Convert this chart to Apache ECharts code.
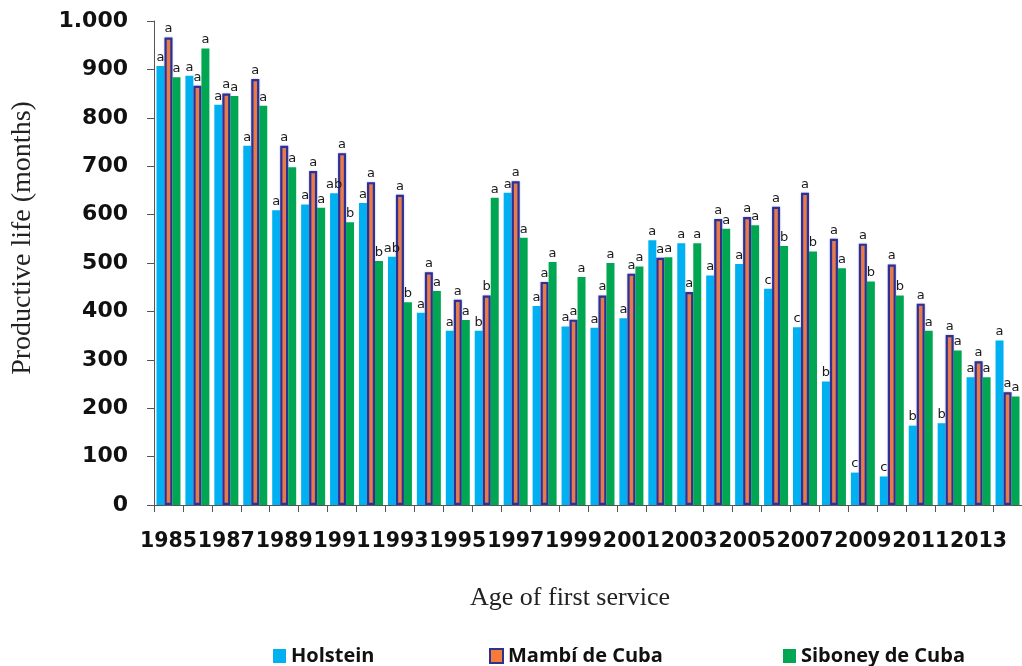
<!DOCTYPE html>
<html><head><meta charset="utf-8">
<script src="https://cdn.jsdelivr.net/npm/echarts@6/dist/echarts.min.js"></script>
<style>html,body{margin:0;padding:0;background:#fff}#c{width:1022px;height:666px}</style>
</head><body><div id="c"></div>
<script>
const years = ['1985','1986','1987','1988','1989','1990','1991','1992','1993','1994','1995','1996','1997','1998','1999','2000','2001','2002','2003','2004','2005','2006','2007','2008','2009','2010','2011','2012','2013','2014'];
const holstein = [907,887,827,742,609,621,644,624,513,397,360,360,645,411,369,366,386,547,541,474,498,447,367,255,67,59,164,169,264,340];
const mambi    = [966,866,850,880,742,690,727,667,641,481,424,433,669,461,383,433,478,511,440,591,595,616,645,550,540,497,416,351,297,233];
const siboney  = [884,943,845,825,698,614,584,504,419,442,382,635,552,502,471,500,493,512,541,571,578,535,524,489,462,433,360,319,264,224];
const holsteinSig = ['a','a','a','a','a','a','ab','a','ab','a','a','b','a','a','a','a','a','a','a','a','a','c','c','b','c','c','b','b','a','a'];
const mambiSig    = ['a','a','a','a','a','a','a','a','a','a','a','b','a','a','a','a','a','a','a','a','a','a','a','a','a','a','a','a','a','a'];
const siboneySig  = ['a','a','a','a','a','a','b','b','b','a','a','a','a','a','a','a','a','a','a','a','a','b','b','a','b','b','a','a','a','a'];
const seriesNames = ['Holstein','Mambí de Cuba','Siboney de Cuba'];
const yTickLabels = {1000:'1.000'};

const chart = echarts.init(document.getElementById('c'));
function sigLabel(arr){
  return {show:true, position:'top', distance:2, color:'#1a1a1a', fontFamily:'DejaVu Sans', fontSize:13,
    formatter:p=>arr[p.dataIndex]};
}
const legendText = {fontFamily:'Open Sans', fontWeight:'bold', fontSize:20, color:'#111'};
chart.setOption({
  animation:false,
  grid:{left:154, top:21, width:875, bottom:161, containLabel:false},
  legend:[
    {data:[seriesNames[0]], left:268, top:641, itemWidth:13, itemHeight:14, itemGap:0, textStyle:legendText, icon:'rect'},
    {data:[seriesNames[1]], left:484, top:641, itemWidth:13, itemHeight:14, itemGap:0, textStyle:legendText, icon:'rect'},
    {data:[seriesNames[2]], left:778, top:641, itemWidth:13, itemHeight:14, itemGap:0, textStyle:legendText, icon:'rect'}
  ],
  xAxis:{type:'category', data:years, boundaryGap:true,
    axisLine:{lineStyle:{color:'#555', width:1}},
    axisTick:{show:true, interval:0, length:7, lineStyle:{color:'#555'}},
    axisLabel:{interval:(i)=>i%2===0, showMinLabel:true, showMaxLabel:true, hideOverlap:false,
      margin:26, color:'#111', fontFamily:'DejaVu Sans', fontWeight:'bold', fontSize:20.5}
  },
  yAxis:{type:'value', min:0, max:1000, interval:100,
    axisLine:{show:true, lineStyle:{color:'#555', width:1}},
    axisTick:{show:true, length:7, lineStyle:{color:'#555'}},
    splitLine:{show:false},
    axisLabel:{margin:26, color:'#111', fontFamily:'DejaVu Sans', fontWeight:'bold', fontSize:22,
      formatter:v=>yTickLabels[v]||String(v)}
  },
  graphic:[
    {type:'text', x:570, y:598, style:{text:'Age of first service', align:'center', verticalAlign:'middle', font:'26px "Liberation Serif"', fill:'#222'}},
    {type:'text', x:23, y:238, rotation:Math.PI/2, style:{text:'Productive life (months)', align:'center', verticalAlign:'middle', font:'28px "Liberation Serif"', fill:'#222'}}
  ],
  series:[
    {name:seriesNames[0], type:'bar', data:holstein, barWidth:8, barGap:'0%',
      itemStyle:{color:'#00B0F0'}, label:sigLabel(holsteinSig)},
    {name:seriesNames[1], type:'bar', data:mambi, barWidth:8, barGap:'0%',
      itemStyle:{color:'#F47B3A', borderColor:'#2E3192', borderWidth:2.2, shadowColor:'rgba(120,130,220,0.6)', shadowBlur:2}, label:sigLabel(mambiSig)},
    {name:seriesNames[2], type:'bar', data:siboney, barWidth:8, barGap:'0%',
      itemStyle:{color:'#00A651'}, label:sigLabel(siboneySig)}
  ]
});
</script></body></html>
